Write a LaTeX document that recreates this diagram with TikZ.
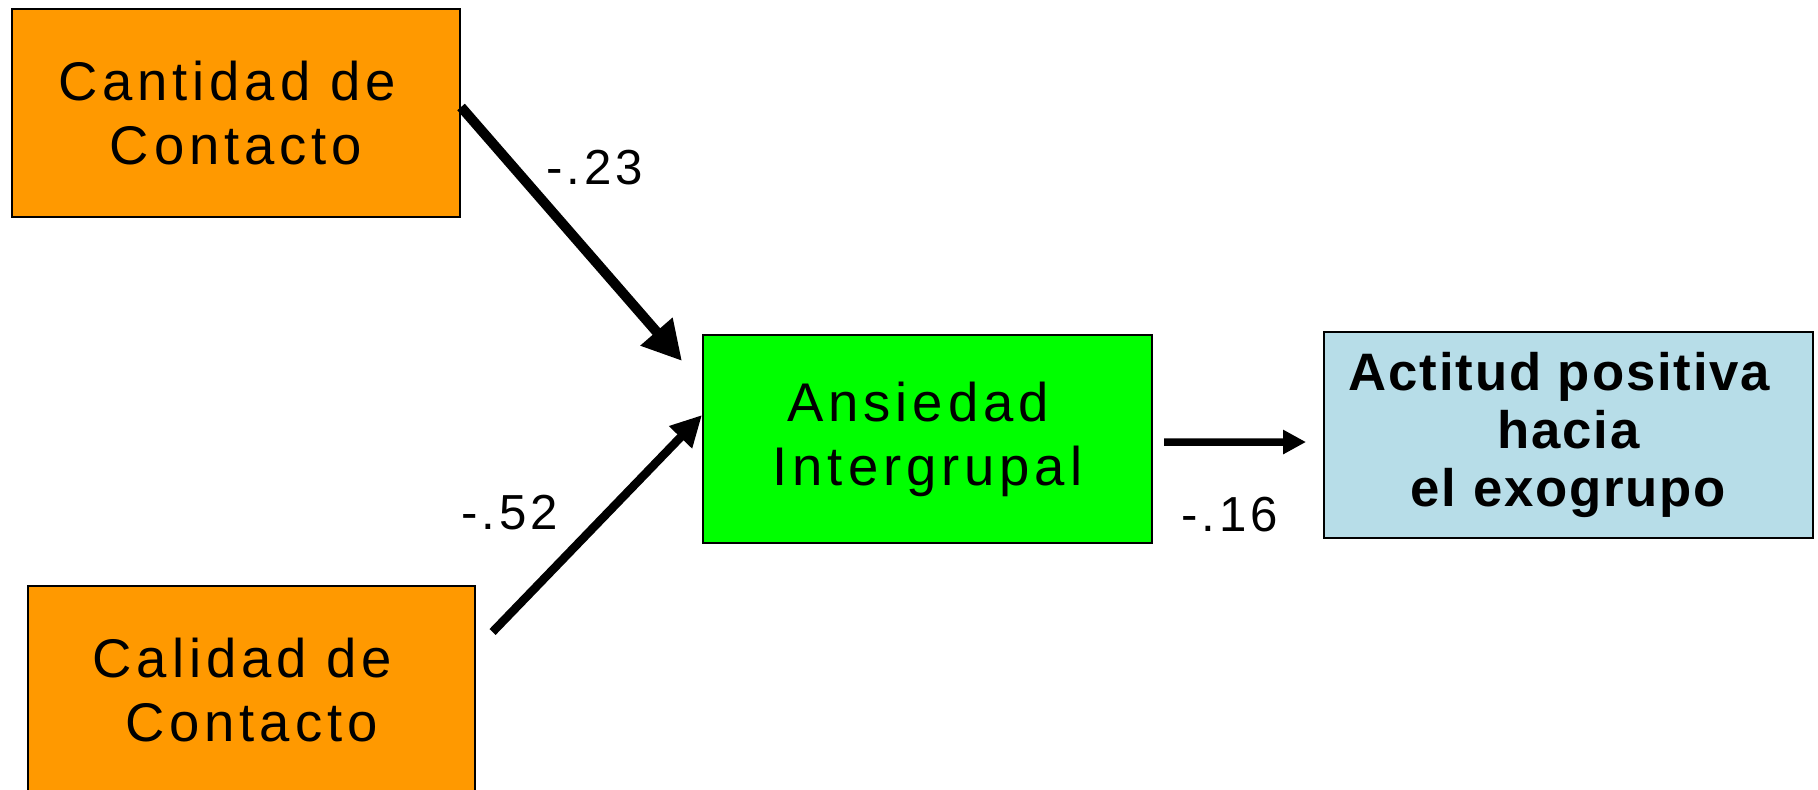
\documentclass[tikz,border=0pt]{standalone}
\usepackage{fontspec}
\setmainfont{Liberation Sans}
\usetikzlibrary{arrows.meta}
\definecolor{naranja}{HTML}{FF9900}
\definecolor{verde}{HTML}{00FF00}
\definecolor{celeste}{HTML}{B7DDE8}
\newcommand{\espaciado}{\addfontfeatures{LetterSpace=9}}

\begin{document}
\begin{tikzpicture}[scale=0.1]
\tikzstyle{every node}+=[inner sep=0pt]
\tikzstyle{caja}=[draw=black, line width=0.6pt, minimum height=2.08cm, align=center, font=\fontsize{15.5pt}{18.2pt}\selectfont\espaciado]
\tikzstyle{coef}=[font=\fontsize{14pt}{16pt}\selectfont\addfontfeatures{LetterSpace=8}]
\tikzstyle{flecha}=[black, line width=0.1cm, -{Triangle[length=0.39cm,width=0.4cm]}]
\tikzstyle{flechita}=[black, line width=0.075cm, -{Triangle[length=0.23cm,width=0.23cm]}]
\useasboundingbox (0,0) rectangle (181.8,-79);
\node [caja, fill=naranja, minimum width=4.48cm] (cantidad) at (23.6,-11.3) {Cantidad de\hspace*{0.18cm}\\Contacto};
\node [caja, fill=naranja, minimum width=4.47cm] (calidad) at (25.15,-69) {Calidad de\hspace*{0.18cm}\\Contacto};
\node [caja, fill=verde, minimum width=4.49cm] (ansiedad) at (92.75,-43.9) {Ansiedad\hspace*{0.19cm}\\Intergrupal};
\node [caja, fill=celeste, minimum width=4.89cm, minimum height=2.06cm, font=\fontsize{15pt}{16.5pt}\selectfont\bfseries\addfontfeatures{LetterSpace=3.5}] (actitud) at (156.85,-43.5) {Actitud positiva\hspace*{0.18cm}\\hacia\\el exogrupo};
% shifts are scaled by 0.1 too
\draw [flecha] ([yshift=0.6cm]cantidad.east) -- ([xshift=-2cm,yshift=-2.7cm]ansiedad.north west);
\draw [flecha, line width=0.085cm, -{Triangle[length=0.31cm,width=0.3cm]}] ([xshift=1.65cm,yshift=-4.7cm]calidad.north east) -- ([yshift=2.4cm]ansiedad.west);
\draw [flechita] ([xshift=1.1cm,yshift=-0.3cm]ansiedad.east) -- ([xshift=-1.7cm,yshift=-0.7cm]actitud.west);
\node [coef] (c23) at (59.5,-16.8) {-.23};
\node [coef] (c52) at (51,-51.3) {-.52};
\node [coef] (c16) at (123,-51.5) {-.16};
\end{tikzpicture}
\end{document}
